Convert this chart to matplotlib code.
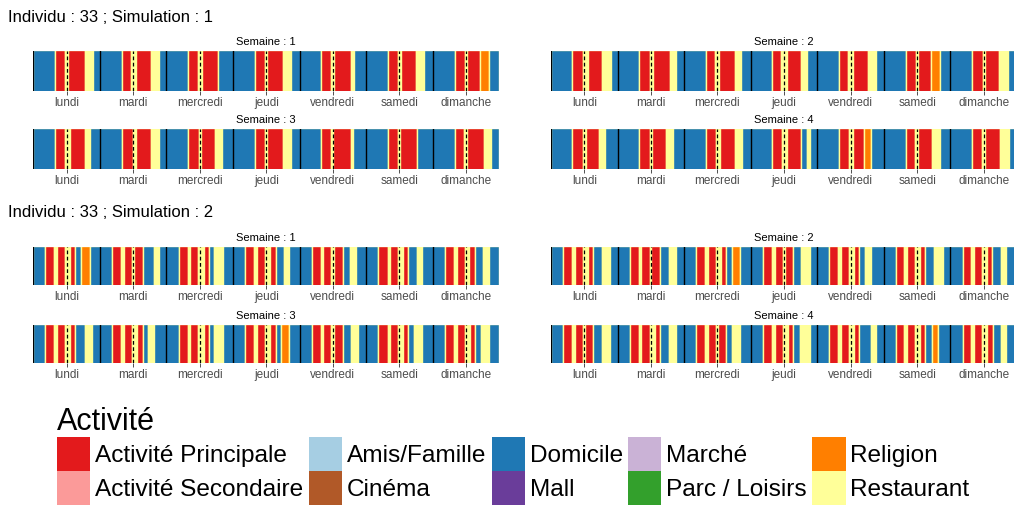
import matplotlib
matplotlib.use('Agg')
import matplotlib.pyplot as plt
from matplotlib.patches import Patch

plt.rcParams['font.family'] = ['Liberation Sans', 'DejaVu Sans']

individu = 33
days = ['lundi', 'mardi', 'mercredi', 'jeudi', 'vendredi', 'samedi', 'dimanche']
activities = ['Activité Principale', 'Activité Secondaire', 'Amis/Famille', 'Cinéma',
              'Domicile', 'Mall', 'Marché', 'Parc / Loisirs', 'Religion', 'Restaurant']
colors = ['#E31A1C', '#FB9A99', '#A6CEE3', '#B15928', '#1F78B4',
          '#6A3D9A', '#CAB2D6', '#33A02C', '#FF7F00', '#FFFF99']
codes = {'P': 'Activité Principale', 'D': 'Domicile', 'R': 'Restaurant', 'G': 'Religion'}

# each day: list of (start hour, activity code); activity lasts until next start
sim1_w1 = [
    [(0, 'D'), (7.7, 'P'), (11.4, 'R'), (12.6, 'P'), (18.6, 'R'), (21.4, 'D')],
    [(0, 'D'), (7.8, 'P'), (11.4, 'R'), (13.2, 'P'), (18.6, 'R'), (21.4, 'D')],
    [(0, 'D'), (7.8, 'P'), (11.4, 'R'), (12.8, 'P'), (18.6, 'D')],
    [(0, 'D'), (7.9, 'P'), (11.6, 'R'), (12.4, 'P'), (18.0, 'R'), (21.0, 'D')],
    [(0, 'D'), (7.7, 'P'), (11.4, 'R'), (12.4, 'P'), (18.6, 'R'), (19.6, 'D')],
    [(0, 'D'), (7.9, 'P'), (11.4, 'R'), (12.4, 'P'), (18.0, 'R'), (21.0, 'D')],
    [(0, 'D'), (7.9, 'P'), (11.6, 'R'), (12.4, 'P'), (17.2, 'G'), (20.4, 'D')],
]
sim1_w2 = [
    [(0, 'D'), (7.7, 'P'), (11.4, 'R'), (13.2, 'P'), (18.5, 'R'), (21.5, 'D')],
    [(0, 'D'), (7.7, 'P'), (11.6, 'R'), (12.6, 'P'), (18.8, 'R'), (21.2, 'D')],
    [(0, 'D'), (7.7, 'P'), (11.3, 'R'), (12.6, 'P'), (18.3, 'R'), (20.4, 'D')],
    [(0, 'D'), (7.6, 'P'), (11.0, 'R'), (13.1, 'P'), (18.2, 'R'), (20.3, 'D')],
    [(0, 'D'), (7.8, 'P'), (11.0, 'R'), (12.9, 'P'), (18.2, 'R'), (21.2, 'D')],
    [(0, 'D'), (8.0, 'P'), (11.6, 'R'), (12.2, 'P'), (17.0, 'G'), (20.3, 'D')],
    [(0, 'D'), (7.8, 'P'), (11.7, 'R'), (12.4, 'P'), (17.4, 'R'), (20.6, 'D')],
]
sim1_w3 = [
    [(0, 'D'), (7.7, 'P'), (11.4, 'R'), (13.4, 'P'), (18.6, 'R'), (20.4, 'D')],
    [(0, 'D'), (7.9, 'P'), (11.8, 'R'), (13.2, 'P'), (18.6, 'R'), (21.4, 'D')],
    [(0, 'D'), (7.9, 'P'), (11.8, 'R'), (12.4, 'P'), (17.4, 'R'), (20.2, 'D')],
    [(0, 'D'), (7.9, 'P'), (11.4, 'R'), (12.2, 'P'), (18.0, 'R'), (21.0, 'D')],
    [(0, 'D'), (7.8, 'P'), (11.4, 'R'), (12.2, 'P'), (18.4, 'R'), (19.4, 'D')],
    [(0, 'D'), (7.8, 'P'), (11.4, 'R'), (12.2, 'P'), (18.4, 'D')],
    [(0, 'D'), (7.9, 'P'), (11.4, 'R'), (12.2, 'P'), (18.4, 'R'), (21.0, 'D')],
]
sim1_w4 = [
    [(0, 'D'), (7.7, 'P'), (11.6, 'R'), (12.5, 'P'), (17.4, 'R'), (19.4, 'D')],
    [(0, 'D'), (7.7, 'P'), (11.6, 'R'), (12.4, 'P'), (17.4, 'R'), (20.0, 'D')],
    [(0, 'D'), (7.7, 'P'), (11.4, 'R'), (12.8, 'P'), (18.2, 'R'), (21.0, 'D')],
    [(0, 'D'), (7.6, 'P'), (11.4, 'R'), (13.1, 'P'), (18.2, 'D'), (20.2, 'R'), (21.2, 'D')],
    [(0, 'D'), (7.9, 'P'), (11.4, 'R'), (13.0, 'P'), (17.0, 'G'), (19.5, 'D')],
    [(0, 'D'), (8.0, 'P'), (11.4, 'R'), (12.4, 'P'), (17.3, 'R'), (20.3, 'D')],
    [(0, 'D'), (7.9, 'P'), (11.4, 'R'), (12.6, 'P'), (18.0, 'R'), (21.2, 'D')],
]
sim2_w1 = [
    [(0, 'D'), (4.3, 'P'), (7.4, 'R'), (8.6, 'P'), (11.5, 'R'), (13.4, 'P'), (15.2, 'D'), (17.3, 'G'), (20.3, 'D')],
    [(0, 'D'), (4.4, 'P'), (7.6, 'R'), (8.6, 'P'), (11.5, 'R'), (12.4, 'P'), (15.5, 'D'), (19.4, 'R'), (21.2, 'D')],
    [(0, 'D'), (4.4, 'P'), (7.6, 'R'), (8.6, 'P'), (11.5, 'R'), (13.4, 'P'), (15.5, 'D'), (17.3, 'R'), (20.3, 'D')],
    [(0, 'D'), (4.3, 'P'), (7.7, 'R'), (8.6, 'P'), (11.5, 'R'), (13.4, 'P'), (15.5, 'D'), (18.5, 'R'), (20.3, 'D')],
    [(0, 'D'), (4.4, 'P'), (7.7, 'R'), (8.6, 'P'), (11.5, 'R'), (12.4, 'P'), (15.5, 'D'), (18.2, 'R'), (20.3, 'D')],
    [(0, 'D'), (4.4, 'P'), (7.7, 'R'), (8.6, 'P'), (11.5, 'R'), (13.4, 'P'), (15.2, 'D'), (18.2, 'R'), (20.3, 'D')],
    [(0, 'D'), (4.4, 'P'), (7.7, 'R'), (8.6, 'P'), (11.5, 'R'), (13.1, 'P'), (15.2, 'D'), (18.2, 'R'), (20.3, 'D')],
]
sim2_w2 = [
    [(0, 'D'), (4.4, 'P'), (7.4, 'R'), (8.6, 'P'), (11.6, 'R'), (13.4, 'P'), (15.2, 'D'), (18.5, 'R'), (21.2, 'D')],
    [(0, 'D'), (4.4, 'P'), (7.7, 'R'), (8.6, 'P'), (11.6, 'R'), (12.2, 'P'), (15.2, 'D'), (18.5, 'R'), (21.2, 'D')],
    [(0, 'D'), (4.4, 'P'), (7.4, 'R'), (8.6, 'P'), (11.6, 'R'), (13.4, 'P'), (15.2, 'D'), (17.3, 'G'), (20.3, 'D')],
    [(0, 'D'), (4.4, 'P'), (7.7, 'R'), (8.6, 'P'), (11.6, 'R'), (12.2, 'P'), (15.2, 'D'), (18.2, 'R'), (21.2, 'D')],
    [(0, 'D'), (4.4, 'P'), (7.4, 'R'), (8.4, 'P'), (11.3, 'R'), (13.2, 'P'), (15.2, 'D'), (17.2, 'R'), (19.2, 'D')],
    [(0, 'D'), (4.4, 'P'), (7.4, 'R'), (8.4, 'P'), (11.3, 'R'), (13.2, 'P'), (15.0, 'D'), (18.2, 'R'), (21.2, 'D')],
    [(0, 'D'), (4.4, 'P'), (7.4, 'R'), (8.4, 'P'), (11.3, 'R'), (13.2, 'P'), (15.0, 'D'), (18.2, 'R'), (20.0, 'D')],
]
sim2_w3 = [
    [(0, 'D'), (4.3, 'P'), (7.4, 'R'), (8.6, 'P'), (11.5, 'R'), (13.4, 'P'), (15.2, 'D'), (18.5, 'R'), (21.2, 'D')],
    [(0, 'D'), (4.4, 'P'), (7.7, 'R'), (8.6, 'P'), (11.5, 'R'), (13.4, 'P'), (15.5, 'D'), (17.3, 'R'), (19.5, 'D')],
    [(0, 'D'), (4.4, 'P'), (7.7, 'R'), (8.6, 'P'), (11.5, 'R'), (13.4, 'P'), (15.5, 'D'), (17.3, 'R'), (20.3, 'D')],
    [(0, 'D'), (4.3, 'P'), (7.7, 'R'), (8.6, 'P'), (11.5, 'R'), (13.4, 'P'), (15.5, 'D'), (17.3, 'G'), (20.3, 'D')],
    [(0, 'D'), (4.4, 'P'), (7.7, 'R'), (8.6, 'P'), (11.5, 'R'), (12.5, 'P'), (15.5, 'D'), (18.5, 'R'), (21.2, 'D')],
    [(0, 'D'), (4.4, 'P'), (7.7, 'R'), (8.6, 'P'), (11.5, 'R'), (13.4, 'P'), (15.2, 'D'), (17.3, 'R'), (20.3, 'D')],
    [(0, 'D'), (4.4, 'P'), (7.7, 'R'), (8.6, 'P'), (11.5, 'R'), (13.4, 'P'), (15.2, 'D'), (17.3, 'R'), (20.3, 'D')],
]
sim2_w4 = [
    [(0, 'D'), (4.4, 'P'), (7.4, 'R'), (8.6, 'P'), (11.6, 'R'), (12.2, 'P'), (15.2, 'D'), (18.5, 'R'), (21.2, 'D')],
    [(0, 'D'), (4.4, 'P'), (7.7, 'R'), (8.6, 'P'), (11.6, 'R'), (13.4, 'P'), (15.2, 'D'), (18.5, 'R'), (21.2, 'D')],
    [(0, 'D'), (4.4, 'P'), (7.4, 'R'), (8.6, 'P'), (11.6, 'R'), (12.2, 'P'), (15.2, 'D'), (17.3, 'R'), (20.3, 'D')],
    [(0, 'D'), (4.4, 'P'), (7.7, 'R'), (8.6, 'P'), (11.6, 'R'), (13.4, 'P'), (15.2, 'D'), (17.6, 'R'), (21.2, 'D')],
    [(0, 'D'), (4.4, 'P'), (7.4, 'R'), (8.4, 'P'), (11.3, 'R'), (13.2, 'P'), (15.2, 'D'), (19.2, 'R'), (21.2, 'D')],
    [(0, 'D'), (4.4, 'P'), (7.4, 'R'), (8.4, 'P'), (11.3, 'R'), (13.2, 'P'), (15.0, 'D'), (17.3, 'G'), (19.6, 'D')],
    [(0, 'D'), (4.4, 'P'), (7.4, 'R'), (8.4, 'P'), (11.3, 'R'), (13.2, 'P'), (15.2, 'D'), (18.2, 'R'), (20.0, 'D')],
]

simulations = {1: [sim1_w1, sim1_w2, sim1_w3, sim1_w4],
               2: [sim2_w1, sim2_w2, sim2_w3, sim2_w4]}

color_of = dict(zip(activities, colors))
W, H = 1014, 507
fig = plt.figure(figsize=(W / 100, H / 100), dpi=100)


def draw(ax, week, title):
    segs = []
    for d, day in enumerate(week):
        for i, (h, c) in enumerate(day):
            s = 24 * d + h
            e = 24 * d + (day[i + 1][0] if i + 1 < len(day) else 24)
            if segs and segs[-1][2] == c:
                segs[-1][1] = e
            else:
                segs.append([s, e, c])
    for s, e, c in segs:
        ax.barh(0, e - s, left=s, height=1, color=color_of[codes[c]],
                edgecolor='#FFFF99', linewidth=1.0)
    for d in range(7):
        ax.axvline(24 * d, color='black', lw=1.6 if d == 0 else 1.0)
        ax.axvline(24 * d + 12, color='black', lw=0.9, ls=(0, (3, 2)))
    ax.set_xlim(0, 168)
    ax.set_ylim(-0.48, 0.48)
    ax.set_xticks([12 + 24 * d for d in range(7)], days)
    ax.set_yticks([])
    for sp in ax.spines.values():
        sp.set_visible(False)
    ax.tick_params(axis='x', length=3, width=0.6, pad=1.0, labelsize=8.5,
                   color='#333333', labelcolor='#4D4D4D')
    ax.set_title(title, fontsize=8, pad=4)


lefts = [33.3, 551]
pw = 466
rows = {1: [(50.5, 91.0), (129.0, 169.3)], 2: [(246.7, 285.0), (324.7, 363.0)]}
for sim, weeks in simulations.items():
    for k, week in enumerate(weeks):
        top, bot = rows[sim][k // 2]
        left = lefts[k % 2]
        ax = fig.add_axes([left / W, 1 - bot / H, pw / W, (bot - top) / H])
        draw(ax, week, f'Semaine : {k + 1}')

fig.text(8 / W, 1 - 18 / H, f'Individu : {individu} ; Simulation : 1', fontsize=12, va='center')
fig.text(8 / W, 1 - 213 / H, f'Individu : {individu} ; Simulation : 2', fontsize=12, va='center')

handles = [Patch(facecolor=c, edgecolor='none') for c in colors]
fig.legend(handles, activities, ncol=5, loc='upper left',
           bbox_to_anchor=(57 / W, 1 - 407 / H), frameon=False,
           fontsize=17.6, title='Activité', title_fontsize=22, alignment='left',
           handlelength=1.36, handleheight=1.75, handletextpad=0.2,
           columnspacing=0.22, labelspacing=0.0, borderpad=0, borderaxespad=0)

fig.savefig('out.png', dpi=100)
